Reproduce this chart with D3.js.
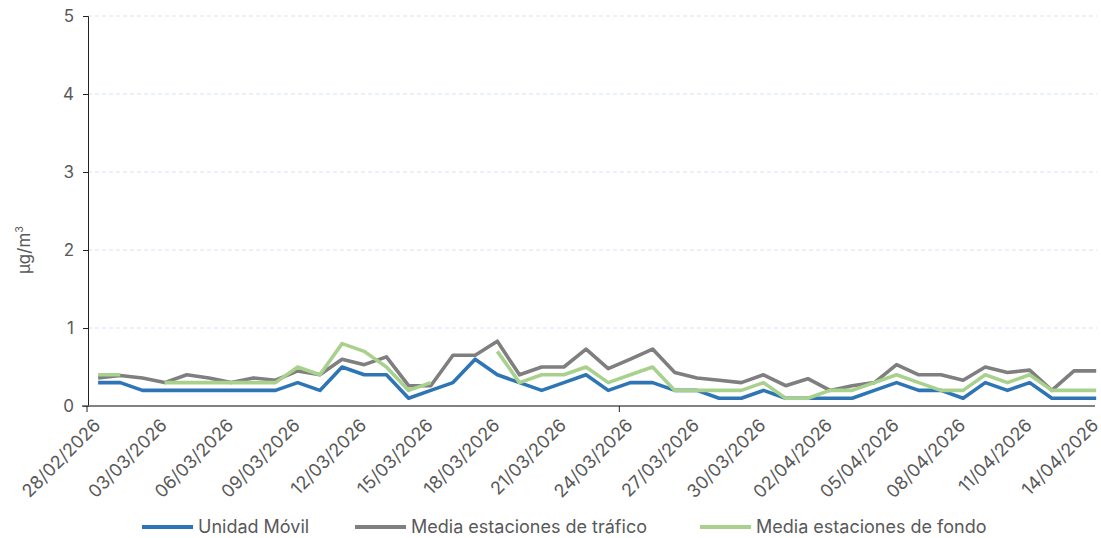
<!DOCTYPE html>
<html>
<head>
<meta charset="utf-8">
<script src="https://cdn.jsdelivr.net/npm/d3@7"></script>
<style>
  html, body { margin: 0; padding: 0; background: #fff; }
  svg { display: block; font-family: "Inter", "Open Sans", sans-serif; }
</style>
</head>
<body>
<svg id="chart" width="1101" height="538"></svg>
<script>
// Daily dates, 28/02/2026 to 14/04/2026
const dates = [
  "28/02/2026","01/03/2026","02/03/2026","03/03/2026","04/03/2026","05/03/2026","06/03/2026",
  "07/03/2026","08/03/2026","09/03/2026","10/03/2026","11/03/2026","12/03/2026","13/03/2026",
  "14/03/2026","15/03/2026","16/03/2026","17/03/2026","18/03/2026","19/03/2026","20/03/2026",
  "21/03/2026","22/03/2026","23/03/2026","24/03/2026","25/03/2026","26/03/2026","27/03/2026",
  "28/03/2026","29/03/2026","30/03/2026","31/03/2026","01/04/2026","02/04/2026","03/04/2026",
  "04/04/2026","05/04/2026","06/04/2026","07/04/2026","08/04/2026","09/04/2026","10/04/2026",
  "11/04/2026","12/04/2026","13/04/2026","14/04/2026"
];

const unidadMovil = [
  0.3,0.3,0.2,0.2,0.2,0.2,0.2,0.2,0.2,0.3,0.2,0.5,0.4,0.4,
  0.1,0.2,0.3,0.6,0.4,0.3,0.2,0.3,0.4,0.2,0.3,0.3,0.2,0.2,
  0.1,0.1,0.2,0.1,0.1,0.1,0.1,0.2,0.3,0.2,0.2,0.1,0.3,0.2,
  0.3,0.1,0.1,0.1
];

const mediaTrafico = [
  0.36,0.39,0.36,0.3,0.4,0.36,0.3,0.36,0.33,0.45,0.4,0.6,0.53,0.63,
  0.26,0.26,0.65,0.65,0.83,0.4,0.5,0.5,0.73,0.48,0.6,0.73,0.43,0.36,
  0.33,0.3,0.4,0.26,0.35,0.2,0.26,0.3,0.53,0.4,0.4,0.33,0.5,0.43,
  0.46,0.2,0.45,0.45
];

const mediaFondo = [
  0.4,0.4,null,0.3,0.3,0.3,0.3,0.3,0.3,0.5,0.4,0.8,0.7,0.5,
  0.2,0.3,null,null,0.7,0.3,0.4,0.4,0.5,0.3,0.4,0.5,0.2,0.2,
  0.2,0.2,0.3,0.1,0.1,0.2,0.2,0.3,0.4,0.3,0.2,0.2,0.4,0.3,
  0.4,0.2,0.2,0.2
];

const yTicks = [0, 1, 2, 3, 4, 5];
const xLabelEvery = 3;

const seriesList = [
  { name: "Unidad Móvil", values: unidadMovil, color: "#2E75B6" },
  { name: "Media estaciones de tráfico", values: mediaTrafico, color: "#7F7F7F" },
  { name: "Media estaciones de fondo", values: mediaFondo, color: "#A9D18E" }
];

const svg = d3.select("#chart");
const margin = { left: 88, right: 6, top: 16, bottom: 132 };
const W = 1101, H = 538;
const plotH = H - margin.top - margin.bottom;
const textColor = "#595959";

const x = d3.scaleBand().domain(dates).range([margin.left - 1, margin.left - 1 + 46 * 22.18]);
const y = d3.scaleLinear().domain([0, 5]).range([margin.top + plotH, margin.top]);
const cx = d => x(d) + x.bandwidth() / 2;

// Horizontal gridlines
svg.append("g")
  .selectAll("line")
  .data(yTicks.filter(t => t > 0))
  .join("line")
  .attr("x1", margin.left).attr("x2", W - 4)
  .attr("y1", d => y(d)).attr("y2", d => y(d))
  .attr("stroke", "#d5e3f4").attr("stroke-width", 1)
  .attr("stroke-dasharray", "4,3");

// Y axis
const yAxis = d3.axisLeft(y).tickValues(yTicks).tickSize(5).tickPadding(9).tickFormat(d3.format("d"));
const gy = svg.append("g").attr("transform", `translate(${margin.left},0)`).call(yAxis);
gy.select(".domain").attr("stroke", "#222");
gy.selectAll(".tick line").attr("stroke", "#222");
gy.selectAll("text").attr("fill", textColor).attr("font-size", 17).attr("font-family", "Inter, sans-serif");

// Y axis title
svg.append("text")
  .attr("transform", `translate(30,${y(2.0)}) rotate(-90)`)
  .attr("text-anchor", "middle")
  .attr("fill", textColor)
  .attr("font-size", 17)
  .call(t => {
    t.append("tspan").text("µg/m");
    t.append("tspan").text("3").attr("font-size", 11).attr("dy", -7);
  });

// X axis line
const y0 = y(0);
svg.append("line")
  .attr("x1", margin.left - 6).attr("x2", W - 6)
  .attr("y1", y0).attr("y2", y0)
  .attr("stroke", "#595959").attr("stroke-width", 1.3);

// X tick marks at category boundaries
svg.append("g").selectAll("line")
  .data([dates[0], dates[24]])
  .join("line")
  .attr("x1", d => x(d)).attr("x2", d => x(d))
  .attr("y1", y0).attr("y2", y0 + 6)
  .attr("stroke", "#222");

// X labels every third day
svg.append("g").selectAll("text")
  .data(dates.filter((d, i) => i % xLabelEvery === 0))
  .join("text")
  .attr("transform", d => `translate(${cx(d) - 1},${y0 + 16}) rotate(-45)`)
  .attr("text-anchor", "end")
  .attr("dy", "0.35em")
  .attr("fill", textColor)
  .attr("font-size", 18)
  .text(d => d);

// Series lines
const line = d3.line()
  .defined(d => d.v !== null)
  .x(d => cx(d.date))
  .y(d => y(d.v));

svg.append("g").selectAll("path")
  .data(seriesList)
  .join("path")
  .attr("fill", "none")
  .attr("stroke", s => s.color)
  .attr("stroke-width", 3.6)
  .attr("stroke-linejoin", "round")
  .attr("d", s => line(s.values.map((v, i) => ({ date: dates[i], v }))));

// Legend
const legendPos = [142, 355, 700];
const lg = svg.append("g").selectAll("g")
  .data(seriesList)
  .join("g")
  .attr("transform", (s, i) => `translate(${legendPos[i]},527)`);
lg.append("line")
  .attr("x1", 0).attr("x2", 51).attr("y1", 0).attr("y2", 0)
  .attr("stroke", s => s.color).attr("stroke-width", 4);
lg.append("text")
  .attr("x", 56).attr("dy", "0.35em")
  .attr("fill", textColor).attr("font-size", 18)
  .text(s => s.name);
</script>
</body>
</html>
